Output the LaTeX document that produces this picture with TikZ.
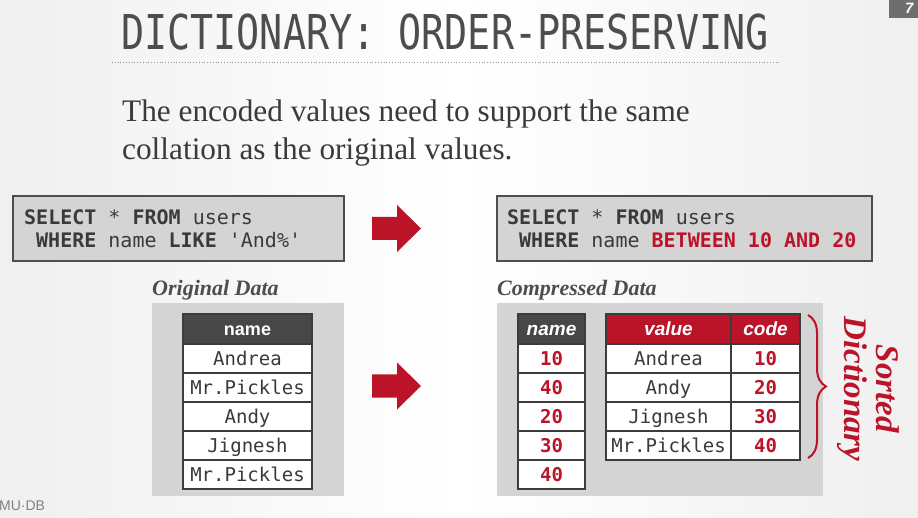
\documentclass[tikz,border=0pt]{standalone}
\usepackage{fontspec}
\setmainfont{Liberation Serif}
\setsansfont{Liberation Sans}
\setmonofont{DejaVu Sans Mono}
\newfontfamily\titlefont[FakeStretch=0.8]{DejaVu Sans Mono}
\usetikzlibrary{decorations.pathreplacing}

\definecolor{dbred}{HTML}{BB1428}
\definecolor{panelgray}{HTML}{D4D4D4}
\definecolor{cellborder}{HTML}{3C3C3C}
\definecolor{headdark}{HTML}{474747}
\definecolor{inkgray}{HTML}{3A3A3A}
\definecolor{titlegray}{HTML}{4D4D4D}
\definecolor{tabgray}{HTML}{6E6E6E}

\tikzset{
  sqlbox/.style={fill=panelgray, draw=inkgray!90, line width=1.8pt, inner sep=0pt},
  sqlline/.style={anchor=base west, inner sep=0pt, text=inkgray,
    font=\ttfamily\fontsize{20}{23}\selectfont},
  cell/.style={draw=cellborder, line width=1.8pt, fill=white, inner sep=0pt,
    minimum height=29pt, text height=16pt, text depth=2pt, text=inkgray,
    font=\ttfamily\fontsize{19}{23}\selectfont},
  redcell/.style={cell, text=dbred, font=\ttfamily\bfseries\fontsize{19}{23}\selectfont},
  headcell/.style={cell, fill=headdark, text=white, minimum height=30pt,
    text height=15pt, text depth=1pt,
    font=\sffamily\bfseries\fontsize{18}{20}\selectfont},
  headital/.style={headcell, font=\sffamily\bfseries\itshape\fontsize{19}{20}\selectfont},
  redhead/.style={headital, fill=dbred},
  caption/.style={anchor=base west, inner sep=0pt, text=titlegray,
    font=\bfseries\itshape\fontsize{22}{24}\selectfont},
  leadline/.style={anchor=base west, inner sep=0pt, text=inkgray,
    font=\fontsize{31.3}{38}\selectfont},
  blockarrow/.style={fill=dbred, draw=none},
}

\begin{document}
\begin{tikzpicture}[x=1pt, y=-1pt]
\useasboundingbox (0,0) rectangle (918,518);
\shade[left color=black!6, right color=black!6, middle color=white] (0,0) rectangle (918,518);

% slide number tab
\fill[tabgray] (889,0) rectangle (918,18);
\node[anchor=west, inner sep=0pt, text=white, font=\sffamily\bfseries\itshape\fontsize{15}{15}\selectfont] (pg) at (905,8) {7};

% title and rule
\node[anchor=base west, inner sep=0pt, text=titlegray, font=\titlefont\fontsize{48}{48}\selectfont] (title) at (121,50) {DICTIONARY: ORDER-PRESERVING};
\draw[titlegray!60, dotted, line width=0.8pt] (112,62) -- (780,62);

% lead sentence
\node[leadline] (lead1) at (122,122) {The encoded values need to support the same};
\node[leadline] (lead2) at (122,160) {collation as the original values.};

% queries
\node[sqlbox, minimum width=331pt, minimum height=65pt] (q1) at (178.5,228.5) {};
\node[sqlline] (q1a) at (24,225) {\textbf{SELECT} * \textbf{FROM} users};
\node[sqlline] (q1b) at (36,248) {\textbf{WHERE} name \textbf{LIKE} 'And\%'};

\node[sqlbox, minimum width=375pt, minimum height=65pt] (q2) at (684.5,228.5) {};
\node[sqlline] (q2a) at (507,225) {\textbf{SELECT} * \textbf{FROM} users};
\node[sqlline] (q2b) at (519,248) {\textbf{WHERE} name \textcolor{dbred}{\textbf{BETWEEN 10 AND 20}}};

% block arrows
\fill[blockarrow] (372,217) -- (397,217) -- (397,205) -- (421,228.5) -- (397,252) -- (397,240) -- (372,240) -- cycle;
\fill[blockarrow] (372,374.5) -- (397,374.5) -- (397,362.5) -- (421,386) -- (397,409.5) -- (397,397.5) -- (372,397.5) -- cycle;

% captions
\node[caption] (cap1) at (152,296) {Original Data};
\node[caption] (cap2) at (497,296) {Compressed Data};

% panels
\fill[panelgray] (152,303) rectangle (344,496);
\fill[panelgray] (497,303) rectangle (823,496);

% original column
\node[headcell, minimum width=129pt] (oh) at (247.5,329) {name};
\node[cell, minimum width=129pt] (o1) at (247.5,358.5) {Andrea};
\node[cell, minimum width=129pt] (o2) at (247.5,387.5) {Mr.Pickles};
\node[cell, minimum width=129pt] (o3) at (247.5,416.5) {Andy};
\node[cell, minimum width=129pt] (o4) at (247.5,445.5) {Jignesh};
\node[cell, minimum width=129pt] (o5) at (247.5,474.5) {Mr.Pickles};

% encoded column
\node[headital, minimum width=67pt] (ch) at (551.5,329) {name};
\node[redcell, minimum width=67pt] (c1) at (551.5,358.5) {10};
\node[redcell, minimum width=67pt] (c2) at (551.5,387.5) {40};
\node[redcell, minimum width=67pt] (c3) at (551.5,416.5) {20};
\node[redcell, minimum width=67pt] (c4) at (551.5,445.5) {30};
\node[redcell, minimum width=67pt] (c5) at (551.5,474.5) {40};

% dictionary
\node[redhead, minimum width=125pt] (vh) at (668.5,329) {value};
\node[redhead, minimum width=69pt] (kh) at (765.5,329) {code};
\node[cell, minimum width=125pt] (v1) at (668.5,358.5) {Andrea};
\node[cell, minimum width=125pt] (v2) at (668.5,387.5) {Andy};
\node[cell, minimum width=125pt] (v3) at (668.5,416.5) {Jignesh};
\node[cell, minimum width=125pt] (v4) at (668.5,445.5) {Mr.Pickles};
\node[redcell, minimum width=69pt] (k1) at (765.5,358.5) {10};
\node[redcell, minimum width=69pt] (k2) at (765.5,387.5) {20};
\node[redcell, minimum width=69pt] (k3) at (765.5,416.5) {30};
\node[redcell, minimum width=69pt] (k4) at (765.5,445.5) {40};

% brace and its label
\coordinate (bt) at (808,315);
\coordinate (bb) at (808,458);
\draw[dbred, line width=2pt, decorate, decoration={brace, amplitude=18pt}] (bt) -- (bb);
\node[rotate=-90, align=center, text=dbred, inner sep=0pt,
  font=\bfseries\itshape\fontsize{33}{32}\selectfont] (sd) at (868,389) {Sorted\\Dictionary};

% footer mark
\node[anchor=west, inner sep=0pt, text=black!50, font=\sffamily\fontsize{14}{14}\selectfont] (logo) at (-1,506) {MU·DB};
\end{tikzpicture}
\end{document}
